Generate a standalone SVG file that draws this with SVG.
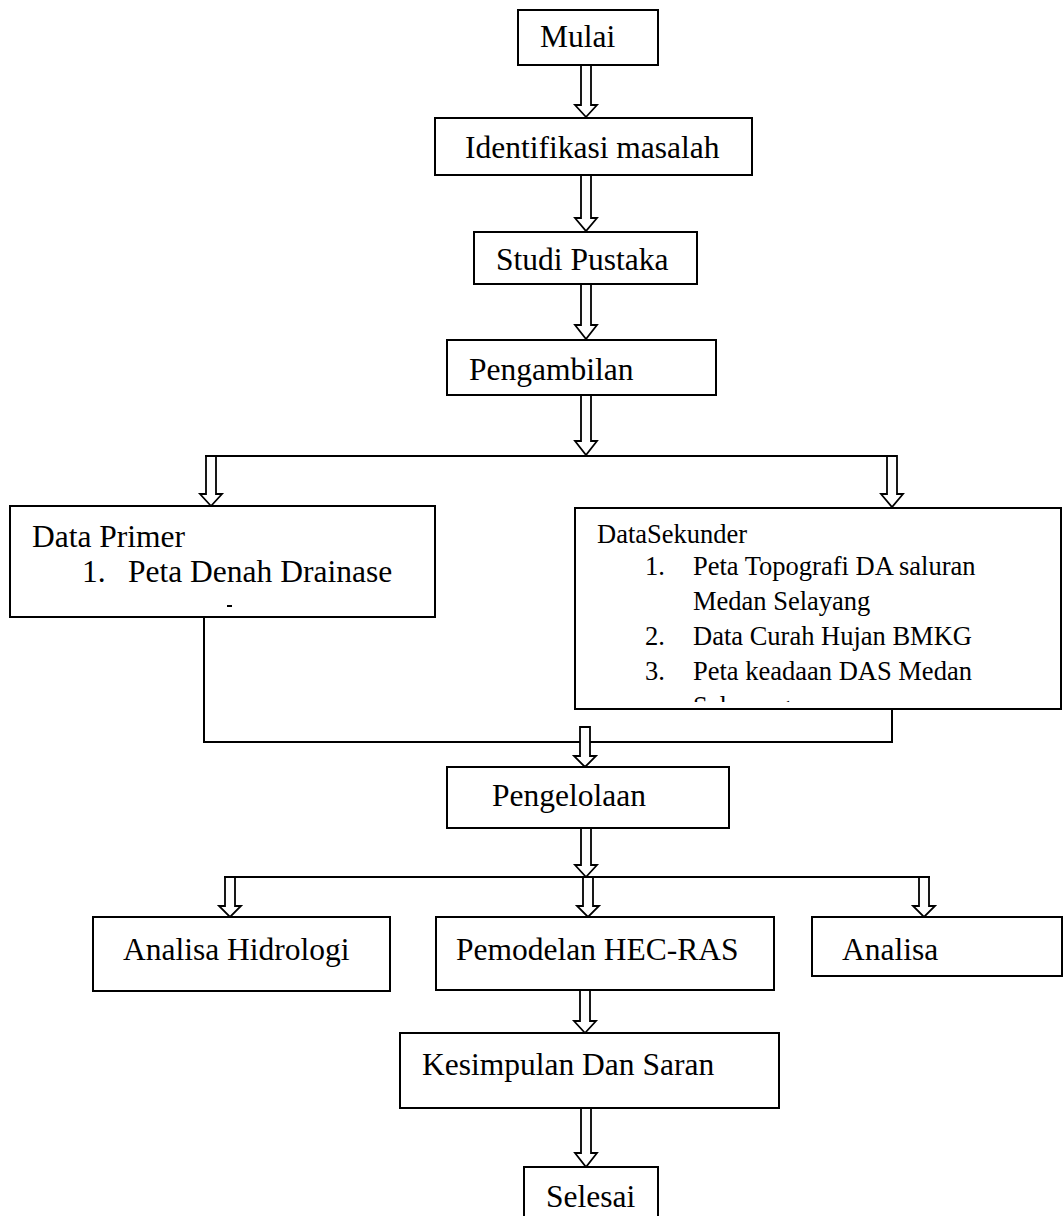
<svg xmlns="http://www.w3.org/2000/svg" width="1063" height="1216" viewBox="0 0 1063 1216">
<style>
.box{fill:#fff;stroke:#000;stroke-width:2}
.lbl{font-family:"Liberation Serif","Times New Roman",serif;font-size:31.5px;fill:#000}
.sm{font-family:"Liberation Serif","Times New Roman",serif;font-size:26.5px;fill:#000}
.arr{fill:#fff;stroke:#000;stroke-width:1.8;stroke-linejoin:miter}
.ln{fill:none;stroke:#000;stroke-width:2}
</style>
<defs>
<clipPath id="clipSek"><rect x="576" y="509" width="486" height="193"/></clipPath>
</defs>
<rect width="1063" height="1216" fill="#fff"/>

<g id="connectors">
<path class="ln" d="M205 456 H892"/>
<path class="ln" d="M204 617 V742 H892 V709"/>
<path class="ln" d="M224 877 H930"/>
<path class="arr" d="M581 65 H591 V105 H597 L586 117 L575 105 H581 Z"/>
<path class="arr" d="M581 175 H591 V218 H597 L586 231 L575 218 H581 Z"/>
<path class="arr" d="M581 284 H591 V325 H597 L586 339 L575 325 H581 Z"/>
<path class="arr" d="M581 395 H591 V441 H597 L586 455 L575 441 H581 Z"/>
<path class="arr" d="M206 456 H216 V494 H222 L211 506 L200 494 H206 Z"/>
<path class="arr" d="M887 456 H897 V494 H903 L892 507 L881 494 H887 Z"/>
<path class="arr" d="M580 727 H590 V756 H596 L585 767 L574 756 H580 Z"/>
<path class="arr" d="M581 828 H591 V865 H597 L586 877 L575 865 H581 Z"/>
<path class="arr" d="M225 877 H235 V906 H241 L230 917 L219 906 H225 Z"/>
<path class="arr" d="M583 877 H593 V906 H599 L588 917 L577 906 H583 Z"/>
<path class="arr" d="M919 877 H929 V906 H935 L924 917 L913 906 H919 Z"/>
<path class="arr" d="M580 990 H590 V1021 H596 L585 1033 L574 1021 H580 Z"/>
<path class="arr" d="M581 1108 H591 V1153 H597 L586 1167 L575 1153 H581 Z"/>
</g>

<g id="mulai">
<rect class="box" x="518" y="10" width="140" height="55"/>
<text class="lbl" x="540" y="47">Mulai</text>
</g>
<g id="identifikasi">
<rect class="box" x="435" y="118" width="317" height="57"/>
<text class="lbl" x="465" y="158">Identifikasi masalah</text>
</g>
<g id="studi-pustaka">
<rect class="box" x="474" y="232" width="223" height="52"/>
<text class="lbl" x="496" y="270">Studi Pustaka</text>
</g>
<g id="pengambilan">
<rect class="box" x="447" y="340" width="269" height="55"/>
<text class="lbl" x="469" y="380">Pengambilan</text>
</g>
<g id="data-primer">
<rect class="box" x="10" y="506" width="425" height="111"/>
<text class="lbl" x="32" y="547">Data Primer</text>
<text class="lbl" x="82" y="582">1.</text>
<text class="lbl" x="128" y="582">Peta Denah Drainase</text>
<path class="ln" d="M227 606 H232" stroke-width="1.5"/>
</g>
<g id="data-sekunder">
<rect class="box" x="575" y="508" width="486" height="201"/>
<text class="sm" x="597" y="543">DataSekunder</text>
<text class="sm" x="645" y="575">1.</text>
<text class="sm" x="693" y="575">Peta Topografi DA saluran</text>
<text class="sm" x="693" y="610">Medan Selayang</text>
<text class="sm" x="645" y="645">2.</text>
<text class="sm" x="693" y="645">Data Curah Hujan BMKG</text>
<text class="sm" x="645" y="680">3.</text>
<text class="sm" x="693" y="680">Peta keadaan DAS Medan</text>
<text class="sm" x="693" y="715" clip-path="url(#clipSek)">Selayang</text>
</g>
<g id="pengelolaan">
<rect class="box" x="447" y="767" width="282" height="61"/>
<text class="lbl" x="492" y="806">Pengelolaan</text>
</g>
<g id="analisa-hidrologi">
<rect class="box" x="93" y="917" width="297" height="74"/>
<text class="lbl" x="123" y="960">Analisa Hidrologi</text>
</g>
<g id="pemodelan">
<rect class="box" x="436" y="917" width="338" height="73"/>
<text class="lbl" x="456" y="960">Pemodelan HEC-RAS</text>
</g>
<g id="analisa">
<rect class="box" x="812" y="917" width="250" height="59"/>
<text class="lbl" x="842" y="960">Analisa</text>
</g>
<g id="kesimpulan">
<rect class="box" x="400" y="1033" width="379" height="75"/>
<text class="lbl" x="422" y="1075">Kesimpulan Dan Saran</text>
</g>
<g id="selesai">
<rect class="box" x="524" y="1167" width="134" height="60"/>
<text class="lbl" x="546" y="1207">Selesai</text>
</g>
</svg>
